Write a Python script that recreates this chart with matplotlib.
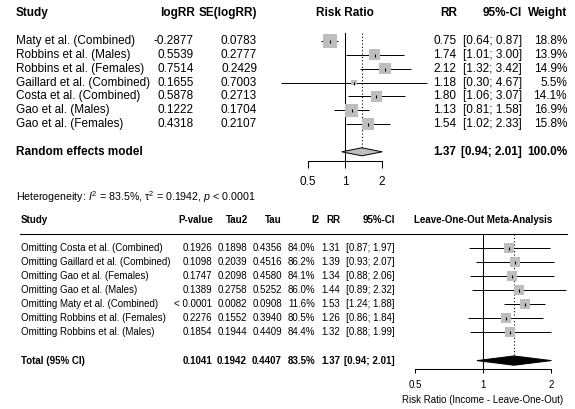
import matplotlib
matplotlib.use("Agg")
import numpy as np
import matplotlib.pyplot as plt
import matplotlib.transforms as mtransforms
from matplotlib.patches import Polygon
from matplotlib.lines import Line2D
from matplotlib.ticker import NullLocator

plt.rcParams['font.family'] = ['Liberation Sans', 'DejaVu Sans']
plt.rcParams['mathtext.fontset'] = 'custom'
plt.rcParams['mathtext.rm'] = 'Liberation Sans'
plt.rcParams['mathtext.it'] = 'Liberation Sans:italic'

# ---- random effects model (top) ----
studies = ["Maty et al. (Combined)", "Robbins et al. (Males)", "Robbins et al. (Females)",
           "Gaillard et al. (Combined)", "Costa et al. (Combined)", "Gao et al. (Males)",
           "Gao et al. (Females)"]
log_rr = [-0.2877, 0.5539, 0.7514, 0.1655, 0.5878, 0.1222, 0.4318]
se_log_rr = [0.0783, 0.2777, 0.2429, 0.7003, 0.2713, 0.1704, 0.2107]
rr = [0.75, 1.74, 2.12, 1.18, 1.80, 1.13, 1.54]
ci_lo = [0.64, 1.01, 1.32, 0.30, 1.06, 0.81, 1.02]
ci_hi = [0.87, 3.00, 3.42, 4.67, 3.07, 1.58, 2.33]
weight = [18.8, 13.9, 14.9, 5.5, 14.1, 16.9, 15.8]
pooled = (1.37, 0.94, 2.01)
het_text = r'Heterogeneity: $I^2$ = 83.5%, τ$^2$ = 0.1942, $p$ < 0.0001'

# ---- leave-one-out (bottom) ----
loo_names = ["Omitting Costa et al. (Combined)", "Omitting Gaillard et al. (Combined)",
             "Omitting Gao et al. (Females)", "Omitting Gao et al. (Males)",
             "Omitting Maty et al. (Combined)", "Omitting Robbins et al. (Females)",
             "Omitting Robbins et al. (Males)"]
loo_p = ["0.1926", "0.1098", "0.1747", "0.1389", "< 0.0001", "0.2276", "0.1854"]
loo_tau2 = [0.1898, 0.2039, 0.2098, 0.2758, 0.0082, 0.1552, 0.1944]
loo_tau = [0.4356, 0.4516, 0.4580, 0.5252, 0.0908, 0.3940, 0.4409]
loo_i2 = [84.0, 86.2, 84.1, 86.0, 11.6, 80.5, 84.4]
loo_rr = [1.31, 1.39, 1.34, 1.44, 1.53, 1.26, 1.32]
loo_lo = [0.87, 0.93, 0.88, 0.89, 1.24, 0.86, 0.88]
loo_hi = [1.97, 2.07, 2.06, 2.32, 1.88, 1.84, 1.99]
total = {"p": "0.1041", "tau2": 0.1942, "tau": 0.4407, "i2": 83.5, "rr": 1.37, "lo": 0.94, "hi": 2.01}

W, H = 575, 409
fig = plt.figure(figsize=(W / 100, H / 100), dpi=100)
fig.patch.set_facecolor('white')


def px_axes(x0, x1, y0, y1, x_one, ppd, row0, step):
    ax = fig.add_axes([x0 / W, 1 - y1 / H, (x1 - x0) / W, (y1 - y0) / H])
    ax.set_xscale('log')
    ax.set_xlim(2 ** ((x0 - x_one) / ppd), 2 ** ((x1 - x_one) / ppd))
    ax.set_ylim((y1 - row0) / step, (y0 - row0) / step)
    ax.patch.set_visible(False)
    for s in ['top', 'right', 'left']:
        ax.spines[s].set_visible(False)
    ax.spines['bottom'].set_bounds(0.5, 2)
    ax.spines['bottom'].set_linewidth(0.75)
    ax.set_xticks([0.5, 1, 2])
    ax.set_xticklabels(['0.5', '1', '2'])
    ax.xaxis.set_minor_locator(NullLocator())
    ax.set_yticks([])
    return ax


def forest(ax, est, lo, hi, sides, summ, dcolor, half_h):
    rows = np.arange(len(est))
    srow = len(est) + 1
    top = ax.get_ylim()[1]
    ax.axvline(1, color='black', lw=0.75, zorder=1)
    ax.vlines(summ[0], top, srow - half_h, colors='black', lw=0.8, linestyles=(0, (1, 2)), zorder=1)
    ax.hlines(rows, lo, hi, colors='black', lw=0.7, zorder=2, clip_on=False)
    ax.scatter(est, rows, s=(np.array(sides) * 0.72) ** 2, marker='s', color='#bebebe',
               linewidths=0, zorder=3)
    ax.scatter(est, rows, s=(3 * 0.72) ** 2, marker='|', color='black', linewidths=0.8, zorder=4)
    ax.add_patch(Polygon([(summ[1], srow), (summ[0], srow - half_h), (summ[2], srow),
                          (summ[0], srow + half_h)], closed=True, facecolor=dcolor,
                         edgecolor='black', lw=0.7, zorder=3))
    return srow


# ---------------- top panel ----------------
ax1 = px_axes(280, 432, 33, 161, 345, 37, 41, 13.85)
ax1.tick_params(axis='x', length=5, width=0.75, pad=5.5, labelsize=8.5)
sides = [0.6 * w + 2.5 for w in weight]
srow1 = forest(ax1, rr, ci_lo, ci_hi, sides, pooled, '#bebebe', 0.29)
t1 = mtransforms.blended_transform_factory(fig.transFigure, ax1.transData)
fs1 = 8.5

ax1.text(16 / W, -2, "Study", transform=t1, fontsize=fs1, fontweight='bold', va='center')
ax1.text(195 / W, -2, "logRR", transform=t1, fontsize=fs1, fontweight='bold', va='center', ha='right')
ax1.text(257 / W, -2, "SE(logRR)", transform=t1, fontsize=fs1, fontweight='bold', va='center', ha='right')
ax1.text(1, -2, "Risk Ratio", fontsize=fs1, fontweight='bold', va='center', ha='center')
ax1.text(457 / W, -2, "RR", transform=t1, fontsize=fs1, fontweight='bold', va='center', ha='right')
ax1.text(522 / W, -2, "95%-CI", transform=t1, fontsize=fs1, fontweight='bold', va='center', ha='right')
ax1.text(567 / W, -2, "Weight", transform=t1, fontsize=fs1, fontweight='bold', va='center', ha='right')

for i, name in enumerate(studies):
    ax1.text(16 / W, i, name, transform=t1, fontsize=fs1, va='center')
    ax1.text(194 / W, i, f"{log_rr[i]:.4f}", transform=t1, fontsize=fs1, va='center', ha='right')
    ax1.text(257 / W, i, f"{se_log_rr[i]:.4f}", transform=t1, fontsize=fs1, va='center', ha='right')
    ax1.text(456.5 / W, i, f"{rr[i]:.2f}", transform=t1, fontsize=fs1, va='center', ha='right')
    ax1.text(522 / W, i, f"[{ci_lo[i]:.2f}; {ci_hi[i]:.2f}]", transform=t1, fontsize=fs1,
             va='center', ha='right')
    ax1.text(567 / W, i, f"{weight[i]:.1f}%", transform=t1, fontsize=fs1, va='center', ha='right')

ax1.text(16 / W, srow1, "Random effects model", transform=t1, fontsize=fs1, fontweight='bold', va='center')
ax1.text(456.5 / W, srow1, f"{pooled[0]:.2f}", transform=t1, fontsize=fs1, fontweight='bold',
         va='center', ha='right')
ax1.text(522 / W, srow1, f"[{pooled[1]:.2f}; {pooled[2]:.2f}]", transform=t1, fontsize=fs1,
         fontweight='bold', va='center', ha='right')
ax1.text(567 / W, srow1, "100.0%", transform=t1, fontsize=fs1, fontweight='bold', va='center', ha='right')
ax1.text(16 / W, 11.25, het_text, transform=t1, fontsize=7.7, va='center')

# ---------------- bottom panel ----------------
ax2 = px_axes(405, 572, 234, 369, 483, 68, 247.8, 14.1)
ax2.tick_params(axis='x', length=3, width=0.75, pad=4.8, labelsize=7)
srow2 = forest(ax2, loo_rr, loo_lo, loo_hi, [10] * len(loo_rr),
               (total["rr"], total["lo"], total["hi"]), 'black', 0.33)
t2 = mtransforms.blended_transform_factory(fig.transFigure, ax2.transData)
fs2 = 7

heads = [(21, "Study", 'left'), (213, "P-value", 'right'), (248, "Tau2", 'right'),
         (282, "Tau", 'right'), (320, "I2", 'right'), (340, "RR", 'right'), (395, "95%-CI", 'right')]
for x, lab, ha in heads:
    ax2.text(x / W, -2, lab, transform=t2, fontsize=fs2, fontweight='bold', va='center', ha=ha)
ax2.text(1, -2, "Leave-One-Out Meta-Analysis", fontsize=fs2, fontweight='bold', va='center', ha='center')
fig.add_artist(Line2D([20 / W, 567 / W], [-1, -1], transform=t2, color='black', lw=0.75))


def loo_row(r, cells, bold):
    fw = 'bold' if bold else 'normal'
    ax2.text(21 / W, r, cells[0], transform=t2, fontsize=fs2, fontweight=fw, va='center')
    for x, s in zip([212, 247, 282, 315, 340, 395], cells[1:]):
        ax2.text(x / W, r, s, transform=t2, fontsize=fs2, fontweight=fw, va='center', ha='right')


for i, name in enumerate(loo_names):
    loo_row(i, [name, loo_p[i], f"{loo_tau2[i]:.4f}", f"{loo_tau[i]:.4f}", f"{loo_i2[i]:.1f}%",
                f"{loo_rr[i]:.2f}", f"[{loo_lo[i]:.2f}; {loo_hi[i]:.2f}]"], False)
loo_row(srow2, ["Total (95% CI)", total["p"], f"{total['tau2']:.4f}", f"{total['tau']:.4f}",
                f"{total['i2']:.1f}%", f"{total['rr']:.2f}", f"[{total['lo']:.2f}; {total['hi']:.2f}]"], True)

ax2.text(1, 10.8, "Risk Ratio (Income - Leave-One-Out)", fontsize=fs2, va='center', ha='center')

fig.savefig("out.png", dpi=100)
